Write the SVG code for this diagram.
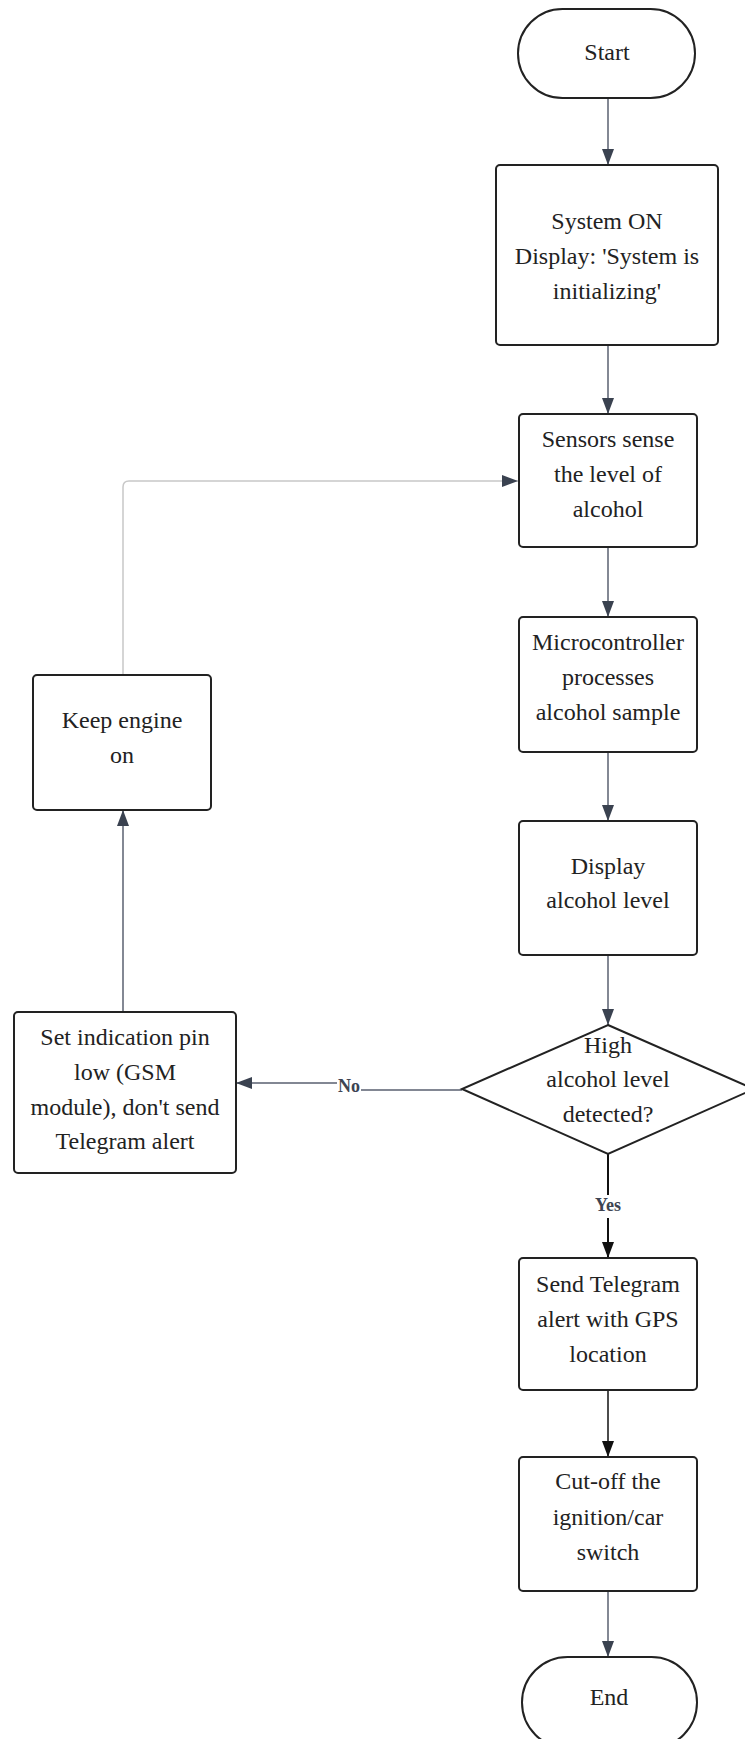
<svg xmlns="http://www.w3.org/2000/svg" width="745" height="1739" viewBox="0 0 745 1739">
<style>
.node{fill:#ffffff;stroke:#222222;stroke-width:2}
.t{font-family:"Liberation Serif","Times New Roman",serif;font-size:24px;fill:#222222;text-anchor:middle}
.lbl{font-family:"Liberation Serif","Times New Roman",serif;font-size:18px;font-weight:bold;fill:#3d4452;text-anchor:middle}
.c{fill:none;stroke:#5a6070;stroke-width:1.5}
.cb{fill:none;stroke:#111111;stroke-width:2}
.cl{fill:none;stroke:#c8c8c8;stroke-width:1.5}
</style>
<defs>
<marker id="ah" viewBox="0 0 16 12" markerWidth="16" markerHeight="12" refX="16" refY="6" orient="auto" markerUnits="userSpaceOnUse">
<path d="M0,0 L16,6 L0,12 z" fill="#3a4250"/>
</marker>
<marker id="ahb" viewBox="0 0 16 12" markerWidth="16" markerHeight="12" refX="16" refY="6" orient="auto" markerUnits="userSpaceOnUse">
<path d="M0,0 L16,6 L0,12 z" fill="#111111"/>
</marker>
</defs>
<rect width="745" height="1739" fill="#ffffff"/>
<g id="connectors">
<path class="c" d="M608,98 V165" marker-end="url(#ah)"/>
<path class="c" d="M608,345 V414" marker-end="url(#ah)"/>
<path class="c" d="M608,547 V617" marker-end="url(#ah)"/>
<path class="c" d="M608,752 V821" marker-end="url(#ah)"/>
<path class="c" d="M608,955 V1025" marker-end="url(#ah)"/>
<path class="cb" d="M608,1154 V1195 M608,1218 V1258" marker-end="url(#ahb)"/>
<text class="lbl" x="608" y="1211">Yes</text>
<path class="c" d="M462,1090 H361 M337,1083 H236" marker-end="url(#ah)"/>
<text class="lbl" x="349" y="1092">No</text>
<path class="cb" style="stroke-width:1.5" d="M608,1390 V1457" marker-end="url(#ahb)"/>
<path class="c" d="M608,1591 V1657" marker-end="url(#ah)"/>
<path class="c" d="M123,1012 V810" marker-end="url(#ah)"/>
<path class="cl" d="M123,675 V487 Q123,481 129,481 H518" marker-end="url(#ah)"/>
</g>
<g id="start">
<rect class="node" x="518" y="9" width="177" height="89" rx="44.5"/>
<text class="t" x="607" y="60">Start</text>
</g>
<g id="system-on">
<rect class="node" x="496" y="165" width="222" height="180" rx="4"/>
<text class="t" x="607" y="229">System ON</text>
<text class="t" x="607" y="264">Display: 'System is</text>
<text class="t" x="607" y="299">initializing'</text>
</g>
<g id="sensors">
<rect class="node" x="519" y="414" width="178" height="133" rx="4"/>
<text class="t" x="608" y="447">Sensors sense</text>
<text class="t" x="608" y="482">the level of</text>
<text class="t" x="608" y="517">alcohol</text>
</g>
<g id="microcontroller">
<rect class="node" x="519" y="617" width="178" height="135" rx="4"/>
<text class="t" x="608" y="650">Microcontroller</text>
<text class="t" x="608" y="685">processes</text>
<text class="t" x="608" y="720">alcohol sample</text>
</g>
<g id="display">
<rect class="node" x="519" y="821" width="178" height="134" rx="4"/>
<text class="t" x="608" y="874">Display</text>
<text class="t" x="608" y="908">alcohol level</text>
</g>
<g id="decision">
<polygon class="node" points="608,1025 754,1089 608,1154 462,1089"/>
<text class="t" x="608" y="1053">High</text>
<text class="t" x="608" y="1087">alcohol level</text>
<text class="t" x="608" y="1122">detected?</text>
</g>
<g id="set-pin-low">
<rect class="node" x="14" y="1012" width="222" height="161" rx="4"/>
<text class="t" x="125" y="1045">Set indication pin</text>
<text class="t" x="125" y="1080">low (GSM</text>
<text class="t" x="125" y="1115">module), don't send</text>
<text class="t" x="125" y="1149">Telegram alert</text>
</g>
<g id="keep-engine-on">
<rect class="node" x="33" y="675" width="178" height="135" rx="4"/>
<text class="t" x="122" y="728">Keep engine</text>
<text class="t" x="122" y="763">on</text>
</g>
<g id="send-telegram">
<rect class="node" x="519" y="1258" width="178" height="132" rx="4"/>
<text class="t" x="608" y="1292">Send Telegram</text>
<text class="t" x="608" y="1327">alert with GPS</text>
<text class="t" x="608" y="1362">location</text>
</g>
<g id="cut-off">
<rect class="node" x="519" y="1457" width="178" height="134" rx="4"/>
<text class="t" x="608" y="1489">Cut-off the</text>
<text class="t" x="608" y="1525">ignition/car</text>
<text class="t" x="608" y="1560">switch</text>
</g>
<g id="end">
<rect class="node" x="522" y="1657" width="175" height="91" rx="45.5"/>
<text class="t" x="609" y="1705">End</text>
</g>
</svg>
